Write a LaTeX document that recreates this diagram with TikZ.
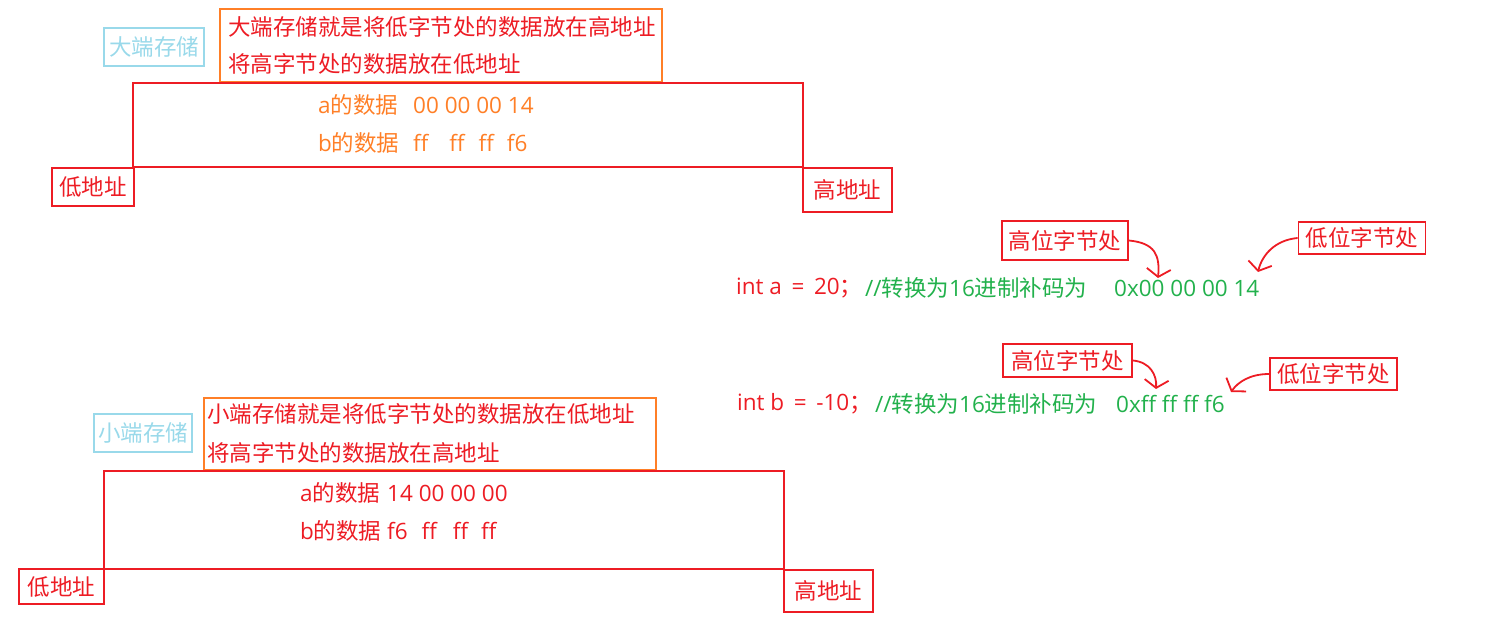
\documentclass[tikz,border=0pt]{standalone}
\usepackage{fontspec}
\setmainfont{Open Sans}
\newfontfamily\cjk{Noto Sans CJK SC}
\usetikzlibrary{arrows.meta}
\definecolor{pred}{HTML}{ED1C24}
\definecolor{porange}{HTML}{FF7F27}
\definecolor{pgreen}{HTML}{22B14C}
\definecolor{pblue}{HTML}{99D9EA}
\newcommand{\zh}[1]{{\cjk #1}}
\begin{document}
\begin{tikzpicture}[x=1pt,y=-1pt,
  txt/.style={inner sep=0pt, anchor=west, font=\fontsize{22.5}{25}\selectfont},
  box/.style={draw, line width=1.8pt, inner sep=0pt, font=\fontsize{22.5}{25}\selectfont\cjk},
  redbox/.style={box, draw=pred, text=pred},
  arr/.style={draw=pred, line width=1.8pt, -{Straight Barb[length=8pt,width=24pt]}}]
\useasboundingbox (0,0) rectangle (1487,643);
% ---------- big endian ----------
\node[box, draw=pblue, text=pblue, minimum width=100pt, minimum height=38pt] (bigtag) at (154,47) {大端存储};
\node[box, draw=porange, minimum width=442pt, minimum height=73pt] (bigdesc) at (441,45.5) {};
\node[txt, text=pred] (bd1) at (228,27) {\zh{大端存储就是将低字节处的数据放在高地址}};
\node[txt, text=pred] (bd2) at (228,64) {\zh{将高字节处的数据放在低地址}};
\node[box, draw=pred, minimum width=670pt, minimum height=84pt] (bigmem) at (468,125) {};
\node[txt, text=porange] (ba) at (318,105) {a\zh{的数据}};
\node[txt, text=porange] (bav) at (413,105) {00 00 00 14};
\node[txt, text=porange] (bb) at (318,143) {b\zh{的数据}};
\node[txt, text=porange] (bbv) at (413,143) {ff\hspace{21pt}ff\hspace{14pt}ff\hspace{13pt}f6};
\node[redbox, minimum width=82pt, minimum height=38pt] (blow) at (93,187) {低地址};
\node[redbox, minimum width=89pt, minimum height=44pt] (bhigh) at (847.5,190) {高地址};
% ---------- little endian ----------
\node[box, draw=pblue, text=pblue, minimum width=98pt, minimum height=38pt] (smalltag) at (143,433) {小端存储};
\node[box, draw=porange, minimum width=452pt, minimum height=72pt] (smalldesc) at (430,434) {};
\node[txt, text=pred] (sd1) at (207,414) {\zh{小端存储就是将低字节处的数据放在低地址}};
\node[txt, text=pred] (sd2) at (207,453) {\zh{将高字节处的数据放在高地址}};
\node[box, draw=pred, minimum width=680pt, minimum height=98pt] (smallmem) at (444,520) {};
\node[txt, text=pred] (sa) at (300,493) {a\zh{的数据}};
\node[txt, text=pred] (sav) at (387,493) {14 00 00 00};
\node[txt, text=pred] (sb) at (300,531) {b\zh{的数据}};
\node[txt, text=pred] (sbv) at (387,531) {f6\hspace{14pt}ff\hspace{16pt}ff\hspace{13pt}ff};
\node[redbox, minimum width=85pt, minimum height=35pt] (slow) at (61.5,586.5) {低地址};
\node[redbox, minimum width=89pt, minimum height=42pt] (shigh) at (828.5,591) {高地址};
% ---------- right side ----------
\node[txt, text=pred] (ia) at (736,288) {int a \,=\, 20\zh{；}};
\node[txt, text=pgreen] (ic) at (865,288) {//\zh{转换为}16\zh{进制补码为}};
\node[txt, text=pgreen] (iav) at (1114,288) {0x00 00 00 14};
\node[redbox, minimum width=126pt, minimum height=39pt] (h1) at (1065,240.5) {高位字节处};
\node[redbox, minimum width=127pt, minimum height=32pt] (l1) at (1362,238) {低位字节处};
\coordinate (t1) at (1158,278);
\coordinate (t2) at (1258,272);
\draw[arr] (h1.east) .. controls (1155,243) and (1160,255) .. (t1);
\draw[arr] (l1.west) .. controls (1275,240) and (1262,255) .. (t2);
\node[txt, text=pred] (ib) at (737,404) {int b \,=\, -10\zh{；}};
\node[txt, text=pgreen] (id) at (875,404) {//\zh{转换为}16\zh{进制补码为}};
\node[txt, text=pgreen] (ibv) at (1116,404) {0xff ff ff f6};
\node[redbox, minimum width=129pt, minimum height=33pt] (h2) at (1067.5,360.5) {高位字节处};
\node[redbox, minimum width=127pt, minimum height=32pt] (l2) at (1333.5,374) {低位字节处};
\coordinate (t3) at (1156,389);
\coordinate (t4) at (1231,392);
\draw[arr] (h2.east) .. controls (1150,362) and (1157,375) .. (t3);
\draw[arr] (l2.west) .. controls (1250,374) and (1238,382) .. (t4);
\end{tikzpicture}
\end{document}
